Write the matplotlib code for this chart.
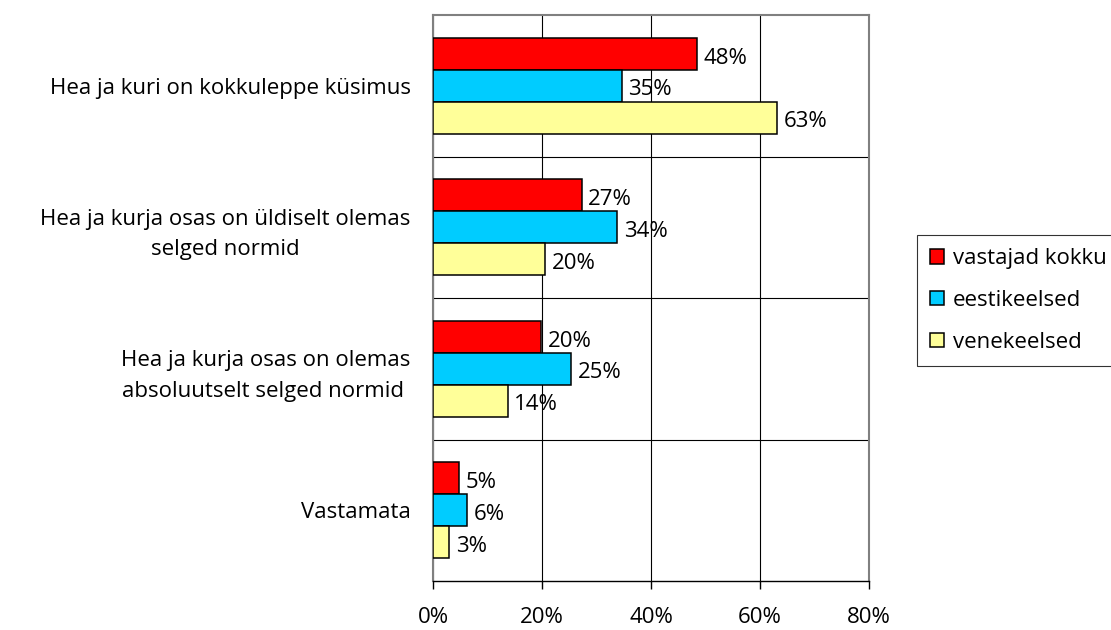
import matplotlib
matplotlib.use("Agg")
import matplotlib.pyplot as plt
import numpy as np

categories = [
    "Hea ja kuri on kokkuleppe küsimus",
    "Hea ja kurja osas on üldiselt olemas\nselged normid",
    "Hea ja kurja osas on olemas\nabsoluutselt selged normid ",
    "Vastamata",
]
series_names = ["vastajad kokku", "eestikeelsed", "venekeelsed"]
vastajad_kokku = [48.4, 27.3, 19.8, 4.8]
eestikeelsed = [34.6, 33.8, 25.4, 6.3]
venekeelsed = [63.1, 20.6, 13.7, 3.0]
value_labels = [
    ["48%", "27%", "20%", "5%"],
    ["35%", "34%", "25%", "6%"],
    ["63%", "20%", "14%", "3%"],
]
colors = ["#FF0000", "#00CCFF", "#FFFF99"]
x_ticks = [0, 20, 40, 60, 80]
x_ticklabels = ["0%", "20%", "40%", "60%", "80%"]

plt.rcParams["font.family"] = ["Open Sans", "DejaVu Sans"]
FS = 16

fig = plt.figure(figsize=(11.11, 6.30), dpi=100)
ax = fig.add_axes([433 / 1111, 1 - 581 / 630, (869 - 433) / 1111, (581 - 15) / 630])

y = np.arange(len(categories))
h = 0.226
series = [vastajad_kokku, eestikeelsed, venekeelsed]
for i, (vals, col, name) in enumerate(zip(series, colors, series_names)):
    pos = y + (i - 1) * h
    ax.barh(pos, vals, height=h, color=col, edgecolor="black", linewidth=1.1,
            label=name, zorder=3)
    for p, v, lab in zip(pos, vals, value_labels[i]):
        ax.text(v + 1.2, p + 0.03, lab, va="center", ha="left", fontsize=FS,
                color="black", zorder=4)

ax.set_xlim(0, 80)
ax.set_ylim(len(categories) - 0.5, -0.5)
ax.set_xticks(x_ticks)
ax.set_xticklabels(x_ticklabels, fontsize=FS)
ax.set_yticks(y)
ax.set_yticklabels(categories, fontsize=FS, multialignment="center", linespacing=1.6)
ax.set_yticks(np.arange(0.5, len(categories) - 0.5, 1), minor=True)

ax.tick_params(axis="y", which="both", length=0, pad=16)
ax.tick_params(axis="x", which="major", direction="out", length=6, width=1,
               color="black", pad=13)
ax.grid(axis="x", which="major", color="black", linewidth=0.8, zorder=0)
ax.grid(axis="y", which="minor", color="black", linewidth=0.8, zorder=0)

for s in ["top", "right", "left"]:
    ax.spines[s].set_color("#808080")
    ax.spines[s].set_linewidth(1.5)
ax.spines["bottom"].set_color("black")
ax.spines["bottom"].set_linewidth(1.0)

leg = fig.legend(loc="upper left", bbox_to_anchor=(917 / 1111, 1 - 235 / 630),
                 fontsize=FS, frameon=True, fancybox=False, edgecolor="black",
                 handlelength=0.6, handleheight=0.6, handletextpad=0.4,
                 labelspacing=0.93, borderpad=0.6, borderaxespad=0)
leg.get_frame().set_linewidth(0.8)

fig.savefig("out.png", dpi=100)
